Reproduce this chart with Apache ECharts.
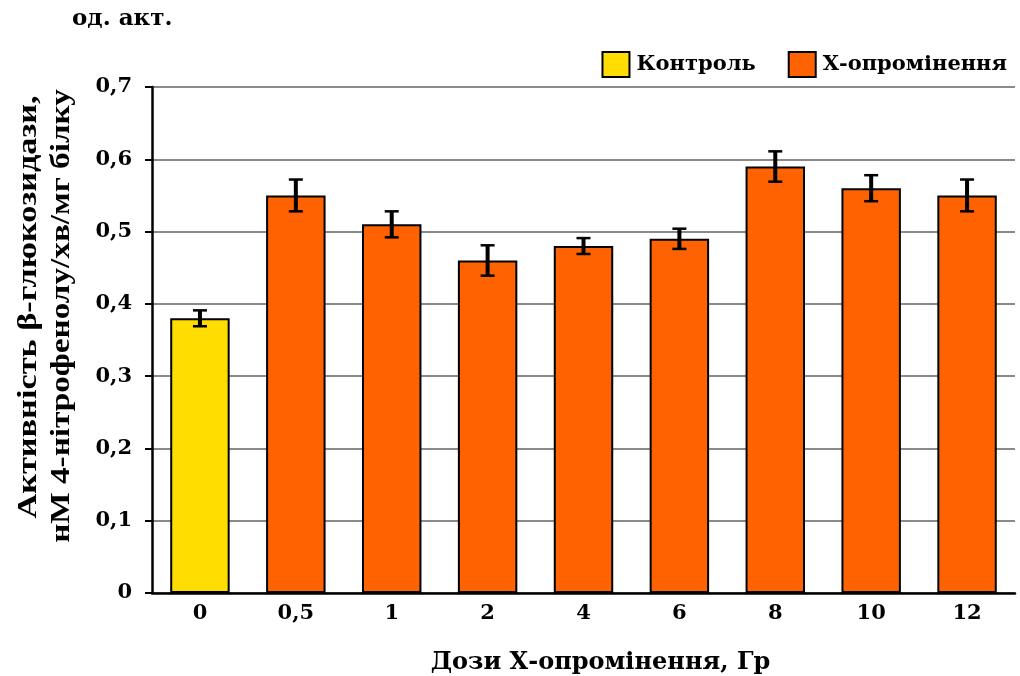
<!DOCTYPE html>
<html><head><meta charset="utf-8">
<script src="https://cdn.jsdelivr.net/npm/echarts@6/dist/echarts.min.js"></script>
<style>html,body{margin:0;padding:0;background:#fff}#c{width:1020px;height:676px}</style>
</head><body><div id="c"></div>
<script>
const categories = ['0', '0,5', '1', '2', '4', '6', '8', '10', '12'];
const controlValues = [0.38, '-', '-', '-', '-', '-', '-', '-', '-'];
const xrayValues = ['-', 0.55, 0.51, 0.46, 0.48, 0.49, 0.59, 0.56, 0.55];
const errors = [0.011, 0.022, 0.018, 0.021, 0.011, 0.014, 0.021, 0.018, 0.022];
const yTicks = ['0', '0,1', '0,2', '0,3', '0,4', '0,5', '0,6', '0,7'];

const means = categories.map((c, i) => controlValues[i] !== '-' ? controlValues[i] : xrayValues[i]);
const errData = categories.map((c, i) => [i, means[i] - errors[i], means[i] + errors[i]]);

const SERIF = '"Liberation Serif", "Times New Roman", serif';
const WIDE = '"DejaVu Serif", "Liberation Serif", serif';
const chart = echarts.init(document.getElementById('c'));
chart.setOption({
  animation: false,
  textStyle: { fontFamily: WIDE, color: '#000', fontWeight: 'bold' },
  grid: { left: 152, right: 5, top: 87, bottom: 83, outerBoundsMode: 'none', containLabel: false },
  legend: {
    right: 8, top: 46, itemWidth: 27, itemHeight: 25, itemGap: 32, icon: 'rect',
    textStyle: { fontFamily: WIDE, fontSize: 21, fontWeight: 'bold', color: '#000', padding: [0, 0, 0, 2] },
    data: ['Контроль', 'Х-опромінення']
  },
  xAxis: {
    type: 'category', data: categories,
    axisLine: { lineStyle: { color: '#000', width: 2.5 } },
    axisTick: { show: false },
    axisLabel: { fontFamily: WIDE, fontSize: 21, fontWeight: 'bold', color: '#000', margin: 10 },
    name: 'Дози Х-опромінення, Гр', nameLocation: 'middle', nameGap: 58,
    nameTextStyle: { fontFamily: WIDE, fontSize: 24, fontWeight: 'bold', color: '#000', padding: [0, 0, 0, 34] }
  },
  yAxis: {
    type: 'value', min: 0, max: 0.7, interval: 0.1,
    axisLine: { show: true, lineStyle: { color: '#000', width: 2.5 } },
    axisTick: { show: true, length: 7, lineStyle: { color: '#000', width: 2 } },
    splitLine: { lineStyle: { color: '#8a8a8a', width: 2 } },
    axisLabel: { fontFamily: WIDE, fontSize: 21, fontWeight: 'bold', color: '#000', margin: 20,
      formatter: (v) => yTicks[Math.round(v * 10)] }
  },
  graphic: [
    { type: 'text', left: 72, top: 8, style: { text: 'од. акт.', font: 'bold 23px ' + WIDE, fill: '#000' } },
    { type: 'text', x: 29, y: 307, rotation: Math.PI / 2, scaleX: 1.27, style: { text: 'Активність β-глюкозидази,', font: 'bold 27px ' + SERIF, fill: '#000', align: 'center', verticalAlign: 'middle' } },
    { type: 'text', x: 62, y: 316, rotation: Math.PI / 2, scaleX: 1.23, style: { text: 'нМ 4-нітрофенолу/хв/мг білку', font: 'bold 27px ' + SERIF, fill: '#000', align: 'center', verticalAlign: 'middle' } }
  ],
  series: [
    { name: 'Контроль', type: 'bar', data: controlValues, barWidth: '62%', barGap: '-100%',
      itemStyle: { color: '#FFDD00', borderColor: '#000', borderWidth: 2 } },
    { name: 'Х-опромінення', type: 'bar', data: xrayValues, barWidth: '62%', barGap: '-100%',
      itemStyle: { color: '#FF6200', borderColor: '#000', borderWidth: 2 } },
    { type: 'custom', data: errData, z: 10,
      renderItem: function (params, api) {
        const x = api.value(0);
        const lo = api.coord([x, api.value(1)]);
        const hi = api.coord([x, api.value(2)]);
        const hw = 7;
        return { type: 'group', children: [
          { type: 'line', shape: { x1: lo[0], y1: lo[1], x2: hi[0], y2: hi[1] }, style: { stroke: '#000', lineWidth: 4 } },
          { type: 'line', shape: { x1: lo[0] - hw, y1: lo[1], x2: lo[0] + hw, y2: lo[1] }, style: { stroke: '#000', lineWidth: 2.5 } },
          { type: 'line', shape: { x1: hi[0] - hw, y1: hi[1], x2: hi[0] + hw, y2: hi[1] }, style: { stroke: '#000', lineWidth: 2.5 } }
        ] };
      }
    }
  ]
});
</script></body></html>
